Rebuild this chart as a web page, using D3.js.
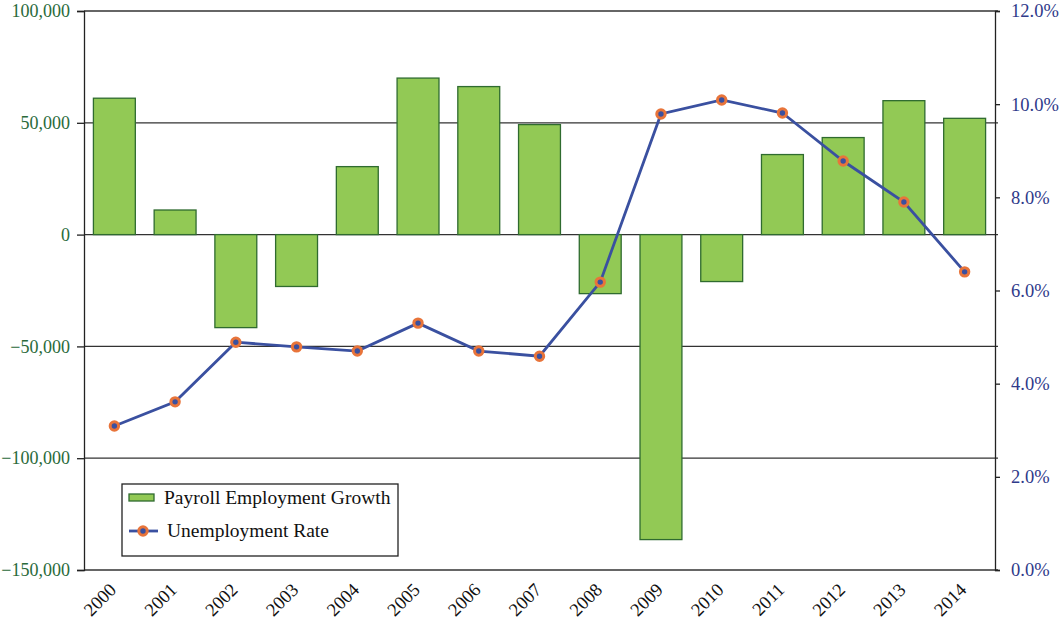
<!DOCTYPE html>
<html><head><meta charset="utf-8">
<script src="https://cdn.jsdelivr.net/npm/d3@7"></script>
<style>body{margin:0;background:#fff}svg{display:block}text{font-family:"Liberation Serif","Times New Roman",serif}</style>
</head><body><svg id="c" width="1062" height="622"></svg>
<script>
const years = ["2000","2001","2002","2003","2004","2005","2006","2007","2008","2009","2010","2011","2012","2013","2014"];
const payrollGrowth = [61000,11000,-41600,-23200,30400,70000,66200,49200,-26400,-136400,-21000,35800,43400,59900,52000];
const unemploymentRate = [3.09,3.61,4.89,4.79,4.70,5.30,4.70,4.59,6.18,9.79,10.09,9.81,8.78,7.90,6.40];
const leftTicks = [100000,50000,0,-50000,-100000,-150000];
const rightTicks = [0,2,4,6,8,10,12];
const legendLabels = ["Payroll Employment Growth","Unemployment Rate"];

const svg = d3.select("#c");
const L=84,R=995,T=11,B=570;
const x = d3.scaleBand().domain(years).range([L,R]).paddingInner(0.31).paddingOuter(0.155);
const yL = d3.scaleLinear().domain([-150000,100000]).range([B,T]);
const yR = d3.scaleLinear().domain([0,12]).range([B,T]);
const fmtL = d3.format(",");

// gridlines
svg.append("g").selectAll("line").data(leftTicks).join("line")
  .attr("x1",L).attr("x2",R+3).attr("y1",d=>yL(d)).attr("y2",d=>yL(d))
  .attr("stroke","#333").attr("stroke-width",1.3);

// bars
svg.append("g").selectAll("rect").data(years).join("rect")
  .attr("x",d=>x(d)).attr("width",x.bandwidth())
  .attr("y",(d,i)=>yL(Math.max(0,payrollGrowth[i])))
  .attr("height",(d,i)=>Math.abs(yL(payrollGrowth[i])-yL(0)))
  .attr("fill","#92c955").attr("stroke","#2f6b2f").attr("stroke-width",1.3);

// left axis
const gL = svg.append("g").attr("transform",`translate(${L},0)`)
  .call(d3.axisLeft(yL).tickValues(leftTicks).tickFormat(fmtL).tickSize(7).tickPadding(7));
gL.select(".domain").attr("stroke","#222").attr("stroke-width",1.3);
gL.selectAll(".tick line").attr("stroke","#222").attr("stroke-width",1.3);
gL.selectAll("text").attr("fill","#2a6a3a").style("font-size","18px");

// right axis
const gR = svg.append("g").attr("transform",`translate(${R},0)`)
  .call(d3.axisRight(yR).tickValues(rightTicks).tickFormat(d=>d.toFixed(1)+"%").tickSize(5).tickPadding(11));
gR.select(".domain").attr("stroke","#222").attr("stroke-width",1.3);
gR.selectAll(".tick line").attr("stroke","#222").attr("stroke-width",1.3);
gR.selectAll("text").attr("fill","#2f3a8a").style("font-size","18.5px");

// x axis labels
svg.append("g").selectAll("text").data(years).join("text")
  .attr("transform",d=>`translate(${x(d)+x.bandwidth()/2+3},${B+21}) rotate(-45)`)
  .attr("text-anchor","end")
  .style("font-size","18.5px").attr("fill","#111").text(d=>d);

// line
const line = d3.line().x((d,i)=>x(years[i])+x.bandwidth()/2).y(d=>yR(d));
svg.append("path").datum(unemploymentRate).attr("d",line)
  .attr("fill","none").attr("stroke","#3a50a0").attr("stroke-width",2.8);
svg.append("g").selectAll("circle").data(unemploymentRate).join("circle")
  .attr("cx",(d,i)=>x(years[i])+x.bandwidth()/2).attr("cy",d=>yR(d)).attr("r",4.2)
  .attr("fill","#3a50a0").attr("stroke","#e8743a").attr("stroke-width",3);

// legend
const lg = svg.append("g");
lg.append("rect").attr("x",122).attr("y",484).attr("width",276).attr("height",72)
  .attr("fill","#fff").attr("stroke","#222").attr("stroke-width",1.3);
lg.append("rect").attr("x",129).attr("y",494).attr("width",25).attr("height",7)
  .attr("fill","#92c955").attr("stroke","#2f6b2f").attr("stroke-width",1.3);
lg.append("line").attr("x1",129).attr("x2",158).attr("y1",531).attr("y2",531)
  .attr("stroke","#3a50a0").attr("stroke-width",2.8);
lg.append("circle").attr("cx",143).attr("cy",531).attr("r",4.2)
  .attr("fill","#3a50a0").attr("stroke","#e8743a").attr("stroke-width",3);
lg.selectAll("text").data(legendLabels).join("text")
  .attr("x",(d,i)=>i===0?164:167).attr("y",(d,i)=>i===0?504:537)
  .style("font-size","19.5px").attr("fill","#111").text(d=>d);
</script></body></html>
